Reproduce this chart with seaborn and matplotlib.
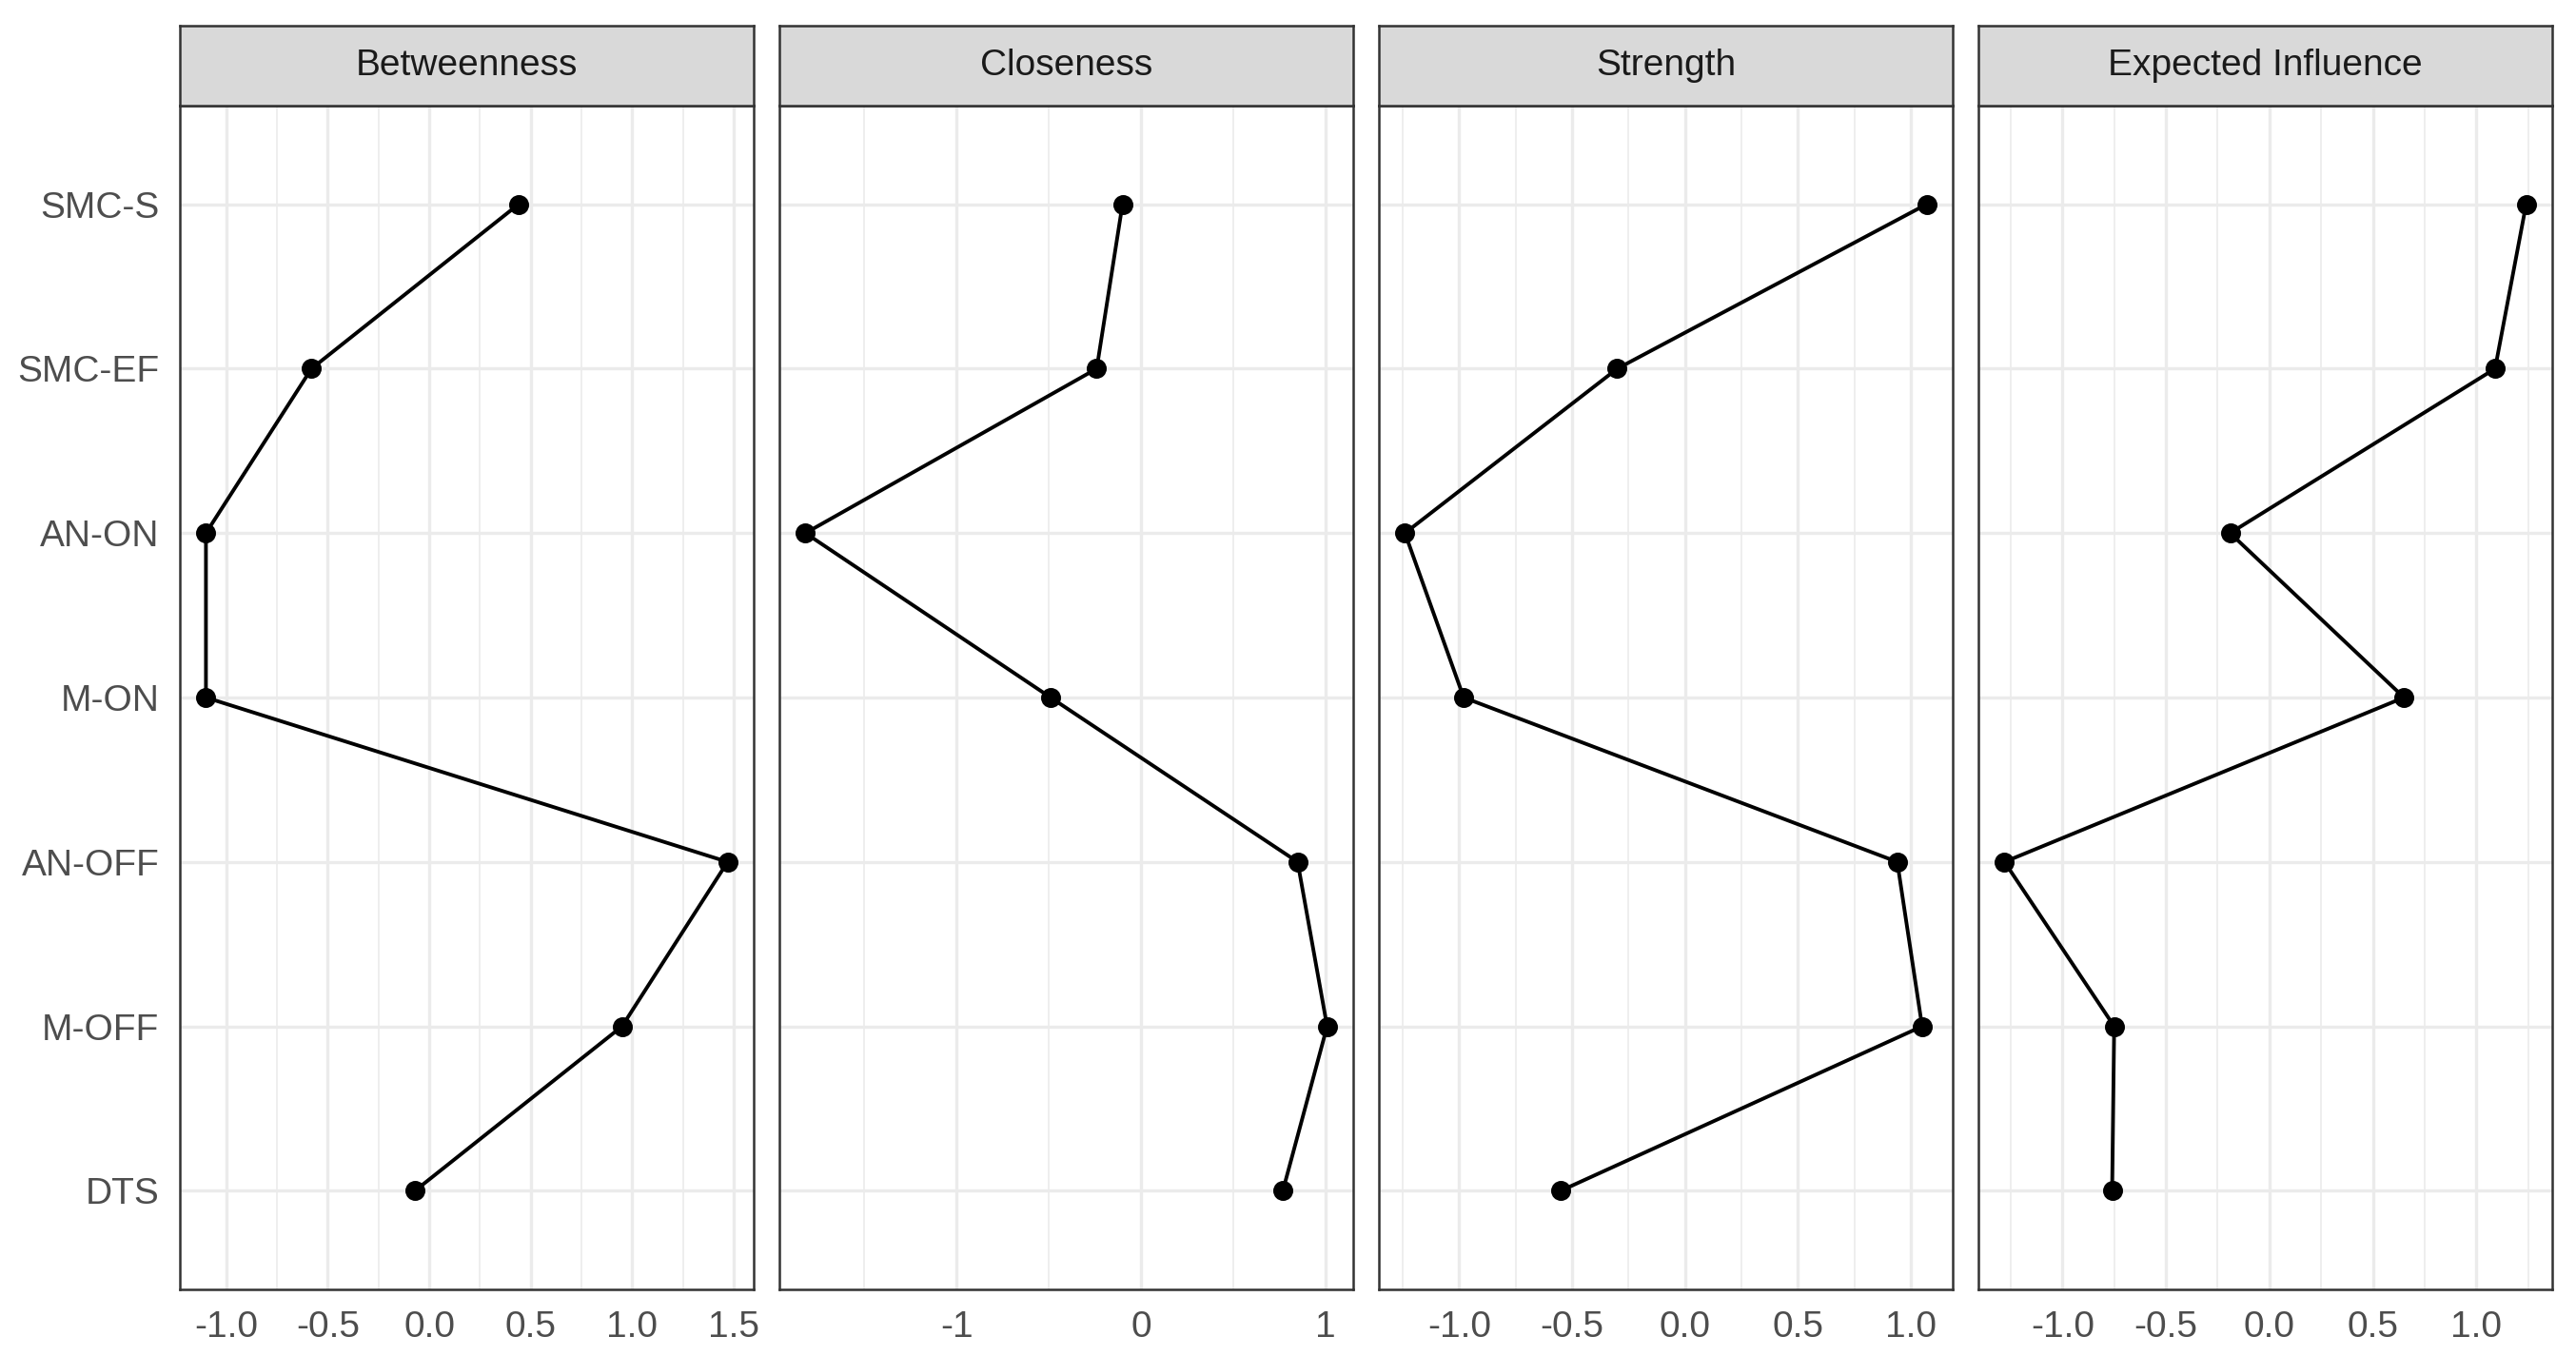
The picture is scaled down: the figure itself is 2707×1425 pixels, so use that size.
import numpy as np
import pandas as pd
import matplotlib
matplotlib.use("Agg")
import matplotlib.pyplot as plt
import seaborn as sns
from matplotlib.ticker import MultipleLocator, FormatStrFormatter

# ---- data ----
nodes = ["SMC-S", "SMC-EF", "AN-ON", "M-ON", "AN-OFF", "M-OFF", "DTS"]
measures = ["Betweenness", "Closeness", "Strength", "Expected Influence"]
betweenness = [0.44, -0.58, -1.10, -1.10, 1.47, 0.95, -0.07]
closeness = [-0.10, -0.24, -1.82, -0.49, 0.85, 1.01, 0.77]
strength = [1.07, -0.30, -1.24, -0.98, 0.94, 1.05, -0.55]
expected_influence = [1.24, 1.09, -0.19, 0.65, -1.28, -0.75, -0.76]
major_steps = [0.5, 1.0, 0.5, 0.5]
tick_formats = ["%.1f", "%d", "%.1f", "%.1f"]

values = [betweenness, closeness, strength, expected_influence]
df = pd.DataFrame({
    "measure": np.repeat(measures, len(nodes)),
    "node": nodes * len(measures),
    "value": np.concatenate(values),
})

sns.set_style("white")
plt.rcParams["font.family"] = ["Liberation Sans", "DejaVu Sans"]
plt.rcParams["axes.unicode_minus"] = False

W, H = 2707, 1425
fig = plt.figure(figsize=(W / 100, H / 100), dpi=100)

panel_left = [189, 819, 1449, 2079]
panel_w = 603
panel_top, panel_bot = 111, 1355
strip_top = 27

grey20 = "#333333"
grey30 = "#4D4D4D"
grey92 = "#EBEBEB"
fs = 28

axes = []
for i, m in enumerate(measures):
    l = panel_left[i] / W
    b = 1 - panel_bot / H
    w = panel_w / W
    h = (panel_bot - panel_top) / H
    ax = fig.add_axes([l, b, w, h])
    axes.append(ax)
    sub = df[df["measure"] == m]
    sns.pointplot(data=sub, x="value", y="node", order=nodes, orient="h",
                  color="black", errorbar=None, markers="o",
                  markersize=13, linewidth=2.8, ax=ax, zorder=3)
    v = np.array(values[i])
    lo, hi = v.min(), v.max()
    pad = (hi - lo) * 0.05
    ax.set_xlim(lo - pad, hi + pad)
    ax.set_ylim(len(nodes) - 1 + 0.6, -0.6)
    ax.xaxis.set_major_locator(MultipleLocator(major_steps[i]))
    ax.xaxis.set_minor_locator(MultipleLocator(major_steps[i] / 2))
    ax.xaxis.set_major_formatter(FormatStrFormatter(tick_formats[i]))
    ax.set_xlabel("")
    ax.set_ylabel("")
    ax.set_axisbelow(True)
    ax.grid(True, which="major", axis="both", color=grey92, linewidth=2.4, zorder=0)
    ax.grid(True, which="minor", axis="x", color=grey92, linewidth=1.2, zorder=0)
    for s in ax.spines.values():
        s.set_visible(True)
        s.set_color(grey20)
        s.set_linewidth(1.8)
    ax.tick_params(axis="both", which="major", length=8.5, width=2.0, color=grey20,
                   labelsize=fs, labelcolor=grey30, pad=7)
    ax.tick_params(axis="x", which="minor", length=0)
    if i > 0:
        ax.tick_params(axis="y", which="both", left=False, labelleft=False)
    # strip
    sax = fig.add_axes([l, 1 - panel_top / H, w, (panel_top - strip_top) / H])
    sax.set_facecolor("#D9D9D9")
    sax.set_xticks([])
    sax.set_yticks([])
    for s in sax.spines.values():
        s.set_visible(True)
        s.set_color(grey20)
        s.set_linewidth(1.8)
    sax.text(0.5, 0.5, m, ha="center", va="center", fontsize=fs,
             color="#1A1A1A", transform=sax.transAxes)

fig.savefig("out.png", dpi=100)
